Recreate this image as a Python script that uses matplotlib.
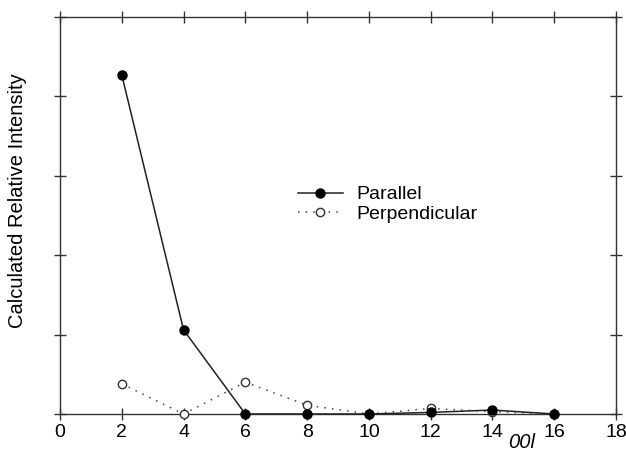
import matplotlib
matplotlib.use("Agg")
import matplotlib.pyplot as plt

plt.rcParams['font.family'] = ['Liberation Sans', 'DejaVu Sans']

x = [2, 4, 6, 8, 10, 12, 14, 16]
parallel = [4.27, 1.06, 0.0, 0.0, 0.0, 0.02, 0.05, 0.0]
perpendicular = [0.38, 0.0, 0.40, 0.11, 0.0, 0.07, 0.03, 0.0]
xticks = [0, 2, 4, 6, 8, 10, 12, 14, 16, 18]
yticks = [0, 1, 2, 3, 4, 5]

fig = plt.figure(figsize=(6.26, 4.54), dpi=100)
ax = fig.add_axes([60/626, 40/454, 556/626, 397/454])

ax.plot(x, perpendicular, linestyle=(0, (1, 4)), color='#444444', lw=1.1,
        marker='o', markersize=6, markerfacecolor='white', markeredgecolor='#333333',
        markeredgewidth=1.0, label='Perpendicular', clip_on=False, zorder=3)
ax.plot(x, parallel, '-', color='#222222', lw=1.1,
        marker='o', markersize=6.5, markerfacecolor='black', markeredgecolor='black',
        label='Parallel', clip_on=False, zorder=4)

ax.set_xlim(0, 18)
ax.set_ylim(0, 5)
ax.set_xticks(xticks)
ax.set_yticks(yticks)
ax.set_yticklabels([])
ax.tick_params(direction='inout', length=9, width=1, top=True, right=True,
               labelsize=14, pad=3, color='#333333')
for s in ax.spines.values():
    s.set_linewidth(1.0)
    s.set_color('#333333')

ax.set_ylabel('Calculated Relative Intensity', fontsize=14.5)
ax.yaxis.set_label_coords(-0.059, 0.537)
ax.text(0.83, -0.096, '00l', transform=ax.transAxes, fontsize=14.5,
        style='italic', ha='center', va='bottom')

handles, labels = ax.get_legend_handles_labels()
leg = ax.legend(handles[::-1], labels[::-1], loc='center left',
                bbox_to_anchor=(0.428, 0.528), frameon=False, fontsize=14,
                handlelength=2.3, handletextpad=0.7, labelspacing=0.1,
                borderaxespad=0, borderpad=0)

fig.savefig('out.png', dpi=100)
